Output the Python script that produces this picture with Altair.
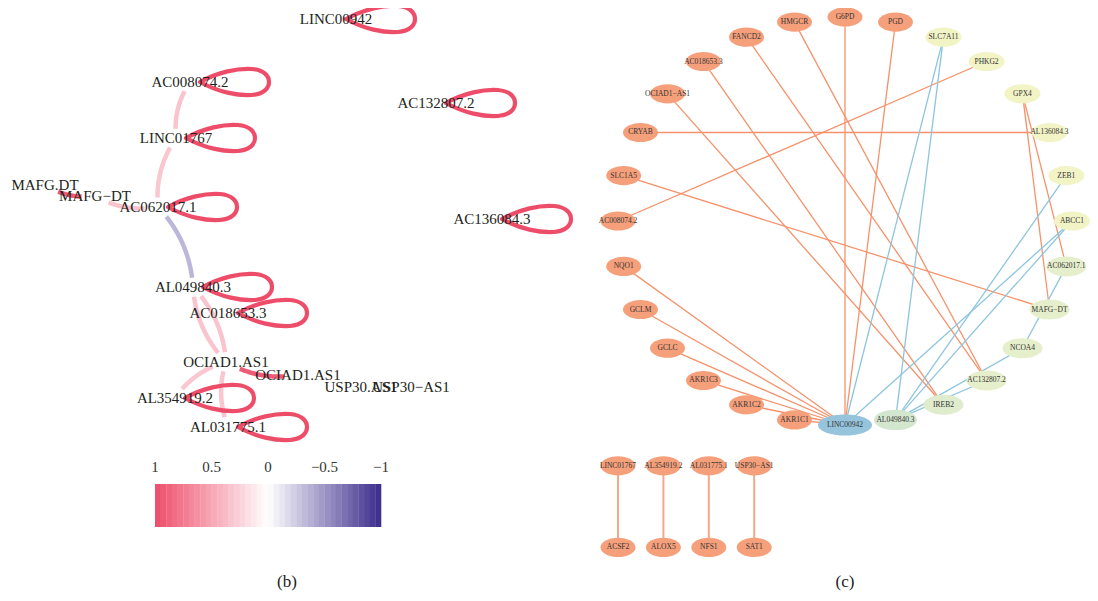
import altair as alt
import numpy as np
import pandas as pd

SERIF = "Liberation Serif"

# ======================= (b) correlation network =======================
b_id = ["LINC00942", "AC008074.2", "AC132807.2", "LINC01767", "MAFG.DT", "MAFG-DT",
        "AC062017.1", "AC136084.3", "AL049840.3", "AC018653.3", "OCIAD1.AS1", "OCIAD1-AS1",
        "USP30.AS1", "USP30-AS1", "AL354919.2", "AL031775.1"]
b_label = ["LINC00942", "AC008074.2", "AC132807.2", "LINC01767", "MAFG.DT", "MAFG−DT",
           "AC062017.1", "AC136084.3", "AL049840.3", "AC018653.3", "OCIAD1.AS1", "OCIAD1.AS1",
           "USP30.AS1", "USP30−AS1", "AL354919.2", "AL031775.1"]
# layout coordinates of the network
b_x = [336, 190, 436, 176, 45, 95, 158, 492, 193, 228, 226, 298, 361, 411, 175, 228]
b_y = [19, 82, 103, 138, 185, 196, 207, 219, 287, 313, 362, 375, 387, 387, 398, 427]

# self-correlation loops (r = 1)
b_self = ["LINC00942", "AC008074.2", "AC132807.2", "LINC01767", "AC062017.1",
          "AC136084.3", "AL049840.3", "AC018653.3", "AL354919.2", "AL031775.1"]

# correlation edges
b_from = ["AC008074.2", "LINC01767", "AL049840.3", "MAFG.DT", "MAFG-DT",
          "AL049840.3", "OCIAD1.AS1", "OCIAD1.AS1", "OCIAD1.AS1", "OCIAD1.AS1"]
b_to = ["LINC01767", "AC062017.1", "AC062017.1", "MAFG-DT", "AC062017.1",
        "OCIAD1.AS1", "AL049840.3", "AL354919.2", "AL031775.1", "OCIAD1-AS1"]
b_r = [0.33, 0.32, -0.34, 0.92, 0.33, 0.33, 0.33, 0.32, 0.32, 0.92]

legend_ticks = [1, 0.5, 0, -0.5, -1]
legend_tick_labels = ["1", "0.5", "0", "−0.5", "−1"]

# ======================= (c) interaction network =======================
c_ring = ["G6PD", "HMGCR", "FANCD2", "AC018653.3", "OCIAD1−AS1", "CRYAB", "SLC1A5",
          "AC008074.2", "NQO1", "GCLM", "GCLC", "AKR1C3", "AKR1C2", "AKR1C1",
          "LINC00942", "AL049840.3", "IREB2", "AC132807.2", "NCOA4", "MAFG−DT",
          "AC062017.1", "ABCC1", "ZEB1", "AL136084.3", "GPX4", "PHKG2", "SLC7A11", "PGD"]
c_group = ["A"] * 14 + ["E", "D", "C2", "C", "C", "C", "C", "B", "B", "B", "B", "B", "B", "A"]

pair_top = ["LINC01767", "AL354919.2", "AL031775.1", "USP30−AS1"]
pair_bottom = ["ACSF2", "ALOX5", "NFS1", "SAT1"]
pair_x = [-1.0, -0.8, -0.6, -0.4]
pair_top_y = -1.2
pair_bottom_y = -1.6

pos_from = ["G6PD", "PGD", "NQO1", "GCLM", "GCLC", "AKR1C3", "AKR1C2", "AKR1C1",
            "HMGCR", "FANCD2", "AC018653.3", "OCIAD1−AS1", "PHKG2", "CRYAB",
            "GPX4", "GPX4", "SLC1A5"]
pos_to = ["LINC00942"] * 8 + ["AC132807.2", "AC132807.2", "IREB2", "IREB2", "AC008074.2",
                              "AL136084.3", "MAFG−DT", "AC062017.1", "MAFG−DT"]
neg_from = ["SLC7A11", "SLC7A11", "ZEB1", "ABCC1", "ABCC1", "AC062017.1", "NCOA4", "AC132807.2"]
neg_to = ["LINC00942", "AL049840.3", "AL049840.3", "LINC00942", "AL049840.3", "NCOA4",
          "AL049840.3", "AL049840.3"]

# ----------------------------- build tables -----------------------------
bpos = {n: np.array([x, y], float) for n, x, y in zip(b_id, b_x, b_y)}
b_nodes_df = pd.DataFrame({"id": b_id, "label": b_label, "x": b_x, "y": b_y})
b_loop_df = pd.DataFrame({"id": b_self,
                          "x": [bpos[n][0] for n in b_self],
                          "y": [bpos[n][1] for n in b_self],
                          "r": [1.0] * len(b_self)})

CURV = 0.18
CAP_W, CAP_H = 13, 9
rows = []
for e, (f, t, r) in enumerate(zip(b_from, b_to, b_r)):
    p0, p1 = bpos[f], bpos[t]
    d = p1 - p0
    ctrl = (p0 + p1) / 2 + CURV * np.array([-d[1], d[0]])
    k = 0
    for s in np.linspace(0, 1, 80):
        p = (1 - s) ** 2 * p0 + 2 * (1 - s) * s * ctrl + s ** 2 * p1
        inside = any(abs(p[0] - q[0]) < CAP_W and abs(p[1] - q[1]) < CAP_H for q in (p0, p1))
        if not inside:
            rows.append({"eid": e, "k": k, "x": p[0], "y": p[1], "r": r})
            k += 1
b_edge_df = pd.DataFrame(rows)

LEG_X0, LEG_X1, LEG_Y0, LEG_Y1, LEG_TY = 155, 381, 484, 527, 467
n_band = 40
bw = (LEG_X1 - LEG_X0) / n_band
leg_df = pd.DataFrame({
    "x0": [LEG_X0 + i * bw for i in range(n_band)],
    "x1": [LEG_X0 + (i + 1) * bw + 0.3 for i in range(n_band)],
    "v": [1 - (i + 0.5) * (2 / n_band) for i in range(n_band)],
    "y0": LEG_Y0, "y1": LEG_Y1,
})
leg_lab_df = pd.DataFrame({
    "x": [LEG_X0 + (1 - v) / 2 * (LEG_X1 - LEG_X0) for v in legend_ticks],
    "y": LEG_TY, "t": legend_tick_labels})
panel_df = pd.DataFrame({"x": [287, 845], "y": [582, 582], "t": ["(b)", "(c)"]})

ang = np.deg2rad(90 + np.arange(len(c_ring)) * 360 / len(c_ring))
cpos = {n: (np.cos(a), np.sin(a)) for n, a in zip(c_ring, ang)}
for n, xx in zip(pair_top, pair_x):
    cpos[n] = (xx, pair_top_y)
for n, xx in zip(pair_bottom, pair_x):
    cpos[n] = (xx, pair_bottom_y)
c_nodes_df = pd.DataFrame({
    "name": c_ring + pair_top + pair_bottom,
    "group": c_group + ["A"] * 8})
c_nodes_df["u"] = [cpos[n][0] for n in c_nodes_df["name"]]
c_nodes_df["v"] = [cpos[n][1] for n in c_nodes_df["name"]]

erows = []
eid = 0
for fl, tl, sg in ((pos_from, pos_to, "pos"), (neg_from, neg_to, "neg")):
    for f, t in zip(fl, tl):
        for n in (f, t):
            erows.append({"eid": eid, "u": cpos[n][0], "v": cpos[n][1], "sign": sg})
        eid += 1
c_edge_df = pd.DataFrame(erows)
prow = []
for i, (a, b) in enumerate(zip(pair_top, pair_bottom)):
    for n in (a, b):
        prow.append({"eid": i, "u": cpos[n][0], "v": cpos[n][1]})
c_pair_df = pd.DataFrame(prow)

# ------------------------------- scales ---------------------------------
W, H = 1082, 585
SXL = alt.Scale(domain=[8, 8 + W], nice=False, zero=False)
SYL = alt.Scale(domain=[8, 8 + H], reverse=True, nice=False, zero=False)
CX, CY, RX, RY = 837, 213, 227, 204
SXR = alt.Scale(domain=[-CX / RX, (W - CX) / RX], nice=False, zero=False)
SYR = alt.Scale(domain=[-(H - CY) / RY, CY / RY], nice=False, zero=False)
CORR = alt.Scale(domain=[-1, 0, 1], range=["#3B2C8B", "#FFFFFF", "#EE4D6A"],
                 interpolate="rgb")


def ellipse(rx, ry):
    k = 0.5523
    return (f"M{-rx},0 C{-rx},{-k*ry} {-k*rx},{-ry} 0,{-ry} "
            f"C{k*rx},{-ry} {rx},{-k*ry} {rx},0 "
            f"C{rx},{k*ry} {k*rx},{ry} 0,{ry} "
            f"C{-k*rx},{ry} {-rx},{k*ry} {-rx},0 Z")


LOOP = ("M10,0 C28,-10 48,-14 62,-13 C74,-12 79,-6 79,0 "
        "C79,6 74,12 62,13 C48,14 28,10 10,0 Z")

groups = ["A", "B", "C", "C2", "D", "E"]
group_colors = ["#F6A07B", "#F2F4C6", "#E6EFCB", "#DFECCD", "#D3E6CE", "#96C4DC"]
group_shapes = [ellipse(17.5, 9.6), ellipse(18, 9.6), ellipse(20, 10),
                ellipse(20, 10), ellipse(21.5, 10.2), ellipse(27, 10.6)]

# ------------------------------- layers ---------------------------------
bx = alt.X("x:Q", scale=SXL, axis=None)
by = alt.Y("y:Q", scale=SYL, axis=None)

b_edges = alt.Chart(b_edge_df).mark_line(strokeWidth=4.5, strokeCap="butt").encode(
    x=bx, y=by, detail="eid:N", order="k:Q",
    color=alt.Color("r:Q", scale=CORR, legend=None))
b_loops = alt.Chart(b_loop_df).mark_point(
    shape=LOOP, size=4, filled=False, opacity=1, strokeWidth=4.2, strokeJoin="round").encode(
    x=bx, y=by, color=alt.Color("r:Q", scale=CORR, legend=None))
b_text = alt.Chart(b_nodes_df).mark_text(font=SERIF, fontSize=15, color="#231F20").encode(
    x=bx, y=by, text="label:N")
leg_rect = alt.Chart(leg_df).mark_rect().encode(
    x=alt.X("x0:Q", scale=SXL, axis=None), x2="x1:Q",
    y=alt.Y("y0:Q", scale=SYL, axis=None), y2="y1:Q",
    color=alt.Color("v:Q", scale=CORR, legend=None))
leg_text = alt.Chart(leg_lab_df).mark_text(font=SERIF, fontSize=15, color="#333333").encode(
    x=bx, y=by, text="t:N")
panel_text = alt.Chart(panel_df).mark_text(font=SERIF, fontSize=17, color="#222222").encode(
    x=bx, y=by, text="t:N")

cx_ = alt.X("u:Q", scale=SXR, axis=None)
cy_ = alt.Y("v:Q", scale=SYR, axis=None)
c_edges = alt.Chart(c_edge_df).mark_line(strokeWidth=1.3).encode(
    x=cx_, y=cy_, detail="eid:N",
    color=alt.Color("sign:N", scale=alt.Scale(domain=["pos", "neg"],
                                              range=["#F5926B", "#8DC5DF"]), legend=None))
c_pairs = alt.Chart(c_pair_df).mark_line(strokeWidth=2, color="#F5A988").encode(
    x=cx_, y=cy_, detail="eid:N")
c_nodes = alt.Chart(c_nodes_df).mark_point(filled=True, size=4, opacity=1, strokeWidth=0).encode(
    x=cx_, y=cy_,
    shape=alt.Shape("group:N", scale=alt.Scale(domain=groups, range=group_shapes), legend=None),
    color=alt.Color("group:N", scale=alt.Scale(domain=groups, range=group_colors), legend=None))
c_text = alt.Chart(c_nodes_df).mark_text(font=SERIF, fontSize=7.5, color="#333333").encode(
    x=cx_, y=cy_, text="name:N")

chart = alt.layer(
    b_edges, b_loops, b_text, leg_rect, leg_text, panel_text,
    c_edges, c_pairs, c_nodes, c_text
).resolve_scale(
    x="independent", y="independent", color="independent", shape="independent"
).properties(
    width=W, height=H, autosize=alt.AutoSizeParams(type="none"), padding=0,
    background="white"
).configure_view(stroke=None)

chart.save("out.html", embed_options={"renderer": "svg", "actions": False})
